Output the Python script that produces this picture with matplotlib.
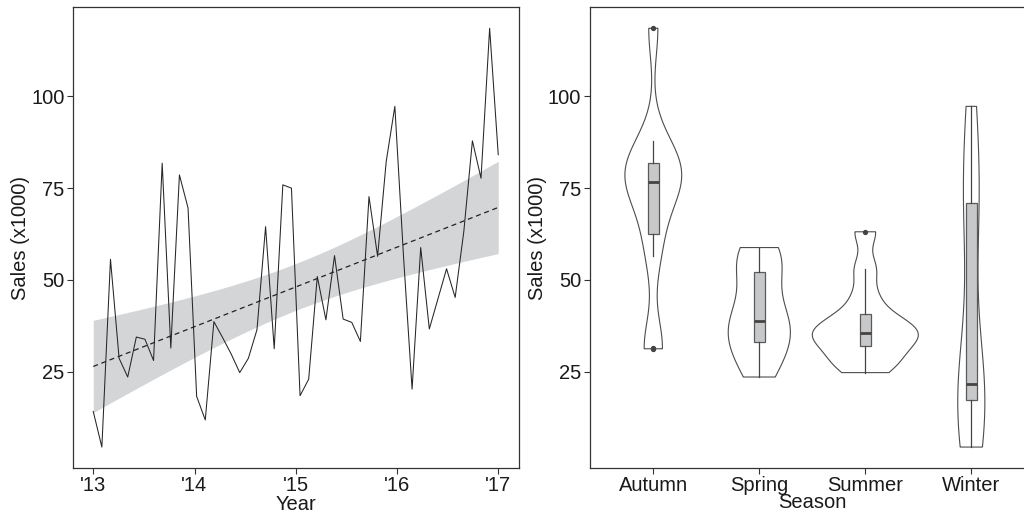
import numpy as np
import matplotlib
matplotlib.use("Agg")
import matplotlib.pyplot as plt

# monthly sales (x1000), Jan 2013 .. Dec 2016
sales = [14.1, 4.4, 55.6, 28.6, 23.5, 34.4, 33.8, 28.0, 81.8, 31.4, 78.6, 69.6,
         18.2, 11.8, 38.6, 34.3, 29.8, 24.7, 28.6, 36.4, 64.5, 31.2, 75.9, 75.0,
         18.4, 22.9, 50.9, 39.1, 56.6, 39.3, 38.4, 33.2, 72.7, 56.4, 82.3, 97.3,
         56.6, 20.2, 58.8, 36.6, 44.8, 53.0, 45.2, 63.1, 87.9, 77.7, 118.6, 84.1]
months = list(range(1, 13)) * 4
season_of_month = {12: "Winter", 1: "Winter", 2: "Winter",
                   3: "Spring", 4: "Spring", 5: "Spring",
                   6: "Summer", 7: "Summer", 8: "Summer",
                   9: "Autumn", 10: "Autumn", 11: "Autumn"}
seasons = ["Autumn", "Spring", "Summer", "Winter"]
year_ticks = [2013, 2014, 2015, 2016, 2017]
year_labels = ["'13", "'14", "'15", "'16", "'17"]
y_ticks = [25, 50, 75, 100]

y = np.array(sales)
x = np.linspace(2013, 2017, len(y))
lab = [season_of_month[m] for m in months]

plt.rcParams['font.family'] = ['Liberation Sans', 'DejaVu Sans']
txt = '#1a1a1a'
edge = '#333333'

fig = plt.figure(figsize=(10.24, 5.16), dpi=100)
ax1 = fig.add_axes([73 / 1024, 48 / 516, 445.5 / 1024, 460.7 / 516])
ax2 = fig.add_axes([589.7 / 1024, 48 / 516, 445.2 / 1024, 460.7 / 516])

pad = 0.05 * (y.max() - y.min())
ylim = (y.min() - pad, y.max() + pad)

# ---- left: time series with linear fit + 95% CI
n = len(y)
b, a = np.polyfit(x, y, 1)
xs = np.linspace(x.min(), x.max(), 100)
fit = a + b * xs
resid = y - (a + b * x)
s = np.sqrt(np.sum(resid ** 2) / (n - 2))
se = s * np.sqrt(1.0 / n + (xs - x.mean()) ** 2 / np.sum((x - x.mean()) ** 2))
tq = 2.0129  # t(0.975, df=46)
ax1.fill_between(xs, fit - tq * se, fit + tq * se, color='#d4d5d7', lw=0, zorder=1)
ax1.plot(x, y, color='#262626', lw=0.75, zorder=2)
ax1.plot(xs, fit, color='#222222', lw=0.9, ls=(0, (4, 3)), zorder=3)
ax1.set_xlim(2012.8, 2017.2)
ax1.set_ylim(*ylim)
ax1.set_xticks(year_ticks)
ax1.set_xticklabels(year_labels)
ax1.set_xlabel("Year", fontsize=14.5, color=txt, labelpad=0)
ax1.set_ylabel("Sales (x1000)", fontsize=14.5, color=txt, labelpad=1)


# ---- right: violins (trimmed, area scaled) + boxplots
def nrd0(v):
    v = np.asarray(v)
    q75, q25 = np.percentile(v, [75, 25])
    lo = min(np.std(v, ddof=1), (q75 - q25) / 1.34)
    return 0.9 * lo * len(v) ** -0.2


groups = [y[[l == sname for l in lab]] for sname in seasons]
dens = []
for g in groups:
    bw = nrd0(g)
    grid = np.linspace(g.min(), g.max(), 512)
    d = np.exp(-0.5 * ((grid[:, None] - g[None, :]) / bw) ** 2).sum(1) / (len(g) * bw * np.sqrt(2 * np.pi))
    dens.append((grid, d))
dmax = max(d.max() for _, d in dens)
for i, (grid, d) in enumerate(dens):
    pos = i + 1
    w = 0.5 * d / dmax
    xx = np.concatenate([pos - w, (pos + w)[::-1], [pos - w[0]]])
    yy = np.concatenate([grid, grid[::-1], [grid[0]]])
    ax2.fill(xx, yy, facecolor='white', edgecolor='#4d4d4d', lw=0.8, zorder=1)

ax2.boxplot(groups, positions=[1, 2, 3, 4], widths=0.1, patch_artist=True,
            showcaps=False, whis=1.5,
            boxprops=dict(facecolor='#c7c8ca', edgecolor='#5a5a5a', lw=0.9),
            medianprops=dict(color='#444444', lw=2),
            whiskerprops=dict(color='#444444', lw=0.9),
            flierprops=dict(marker='o', markersize=2.8, markerfacecolor='#444444',
                            markeredgecolor='#444444'),
            zorder=2)
ax2.set_xlim(0.4, 4.6)
ax2.set_ylim(*ylim)
ax2.set_xticks([1, 2, 3, 4])
ax2.set_xticklabels(seasons)
ax2.set_xlabel("Season", fontsize=14.5, color=txt, labelpad=-2)
ax2.set_ylabel("Sales (x1000)", fontsize=14.5, color=txt, labelpad=1)

for ax in (ax1, ax2):
    ax.set_yticks(y_ticks)
    ax.tick_params(direction='out', length=4, width=0.8, color=edge,
                   labelsize=14.5, labelcolor=txt, pad=2)
    for sp in ax.spines.values():
        sp.set_color(edge)
        sp.set_linewidth(0.9)

fig.savefig("out.png", dpi=100)
